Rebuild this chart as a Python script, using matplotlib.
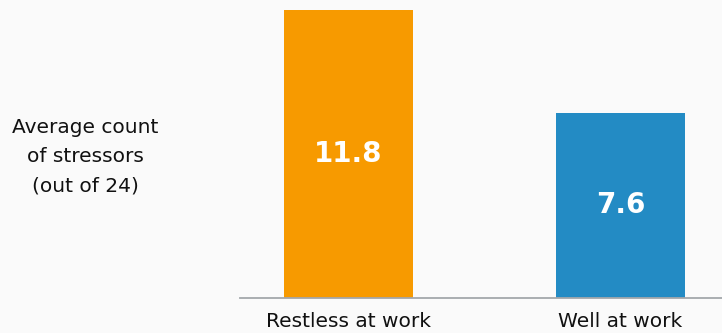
import matplotlib
matplotlib.use("Agg")
import matplotlib.pyplot as plt

categories = ["Restless at work", "Well at work"]
values = [11.8, 7.6]
colors = ["#f79a00", "#238bc4"]
ylabel = "Average count\nof stressors\n(out of 24)"

fig = plt.figure(figsize=(7.22, 3.33), dpi=100, facecolor="#fafafa")
ax = fig.add_axes([240/722, 35/333, 482/722, 288/333])
ax.set_facecolor("#fafafa")

x = list(range(len(categories)))
bars = ax.bar(x, values, width=0.474, color=colors)
for xi, v in zip(x, values):
    ax.text(xi, v/2, f"{v:.1f}", ha="center", va="center", color="white",
            fontsize=20, fontweight="bold")

ax.set_xlim(-0.399, 1.373)
ax.set_ylim(0, 11.8)
ax.set_xticks(x)
ax.set_xticklabels(categories, fontsize=14.5, color="#111111")
ax.tick_params(axis="x", length=0, pad=10)
ax.set_yticks([])
for s in ["top", "right", "left"]:
    ax.spines[s].set_visible(False)
ax.spines["bottom"].set_color("#a3a7ab")
ax.spines["bottom"].set_linewidth(1.3)

fig.text(85/722, 1 - 157/333, ylabel, ha="center", va="center",
         multialignment="center", fontsize=14.5, color="#111111", linespacing=1.68)

fig.savefig("out.png", dpi=100, facecolor=fig.get_facecolor())
